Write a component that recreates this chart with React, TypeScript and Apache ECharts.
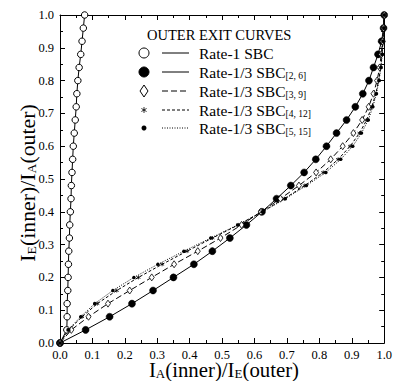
import React, { useEffect, useRef } from "react";
import * as echarts from "echarts";

// I_A(outer): input of the outer decoder (plotted on y)
const yIn = [0, 0.04, 0.08, 0.12, 0.16, 0.2, 0.24, 0.28, 0.32, 0.36, 0.4, 0.44, 0.48, 0.52, 0.56, 0.6, 0.64, 0.68, 0.72, 0.76, 0.8, 0.84, 0.88, 0.92, 0.96, 1.0];

// I_E(outer): output of each outer code (plotted on x)
const rate1 = [0, 0.021, 0.022, 0.022, 0.024, 0.025, 0.026, 0.027, 0.029, 0.03, 0.032, 0.034, 0.035, 0.037, 0.039, 0.041, 0.044, 0.047, 0.05, 0.052, 0.055, 0.059, 0.064, 0.068, 0.072, 0.076];
const sbc26 = [0, 0.079, 0.153, 0.222, 0.287, 0.35, 0.413, 0.47, 0.524, 0.575, 0.623, 0.668, 0.712, 0.753, 0.789, 0.822, 0.853, 0.884, 0.911, 0.934, 0.953, 0.967, 0.981, 0.992, 0.998, 1.0];
const sbc39 = [0, 0.035, 0.088, 0.148, 0.215, 0.283, 0.352, 0.425, 0.495, 0.56, 0.62, 0.68, 0.737, 0.79, 0.835, 0.872, 0.905, 0.932, 0.952, 0.967, 0.978, 0.986, 0.991, 0.995, 0.998, 1.0];
const sbc412 = [0, 0.027, 0.068, 0.115, 0.175, 0.242, 0.315, 0.392, 0.47, 0.55, 0.623, 0.692, 0.755, 0.812, 0.858, 0.895, 0.924, 0.946, 0.962, 0.974, 0.983, 0.989, 0.993, 0.996, 0.999, 1.0];
const sbc515 = [0, 0.025, 0.064, 0.107, 0.163, 0.228, 0.302, 0.382, 0.465, 0.548, 0.625, 0.695, 0.76, 0.82, 0.866, 0.903, 0.93, 0.951, 0.965, 0.976, 0.984, 0.99, 0.994, 0.997, 0.999, 1.0];

const legendTitle = "OUTER EXIT CURVES";
const legendNames = ["Rate-1 SBC", "Rate-1/3 SBC", "Rate-1/3 SBC", "Rate-1/3 SBC", "Rate-1/3 SBC"];
const legendSubs = ["", "[2, 6]", "[3, 9]", "[4, 12]", "[5, 15]"];

const FONT = "'Liberation Serif', 'Times New Roman', serif";

const pairs = (xs: number[]) => xs.map((x, i) => [x, yIn[i]]);

export default function App() {
  const ref = useRef<HTMLDivElement>(null);
  useEffect(() => {
    if (!ref.current) return;
    const chart = echarts.init(ref.current, undefined, { renderer: "svg" });

    const axisCommon = {
      type: "value" as const,
      min: 0,
      max: 1,
      interval: 0.1,
      splitLine: { show: false },
      axisLine: { show: true, onZero: false, lineStyle: { color: "#000", width: 1 } },
      axisTick: { show: true, inside: true, length: 5, lineStyle: { color: "#000", width: 1 } },
      minorTick: { show: true, splitNumber: 2, length: 3, lineStyle: { color: "#000", width: 1 } },
      minorSplitLine: { show: false },
    };
    const labelCommon = {
      show: true,
      color: "#000",
      fontFamily: FONT,
      fontSize: 12.5,
      formatter: (v: number) => v.toFixed(1),
    };

    const rowY = [53, 72, 91, 110, 128];
    const markerX = 144;
    const lineX1 = 162;
    const lineX2 = 189;
    const textX = 199;
    const dashes: (number[] | null)[] = [null, null, [6, 3], [3, 2], [1, 1.5]];

    const graphics: any[] = [
      {
        type: "text",
        x: 147,
        y: 35,
        style: { text: legendTitle, font: `14.5px ${FONT}`, fill: "#000", verticalAlign: "middle" },
      },
    ];
    legendNames.forEach((name, i) => {
      const y = rowY[i];
      graphics.push({
        type: "line",
        shape: { x1: lineX1, y1: y, x2: lineX2, y2: y },
        style: { stroke: "#000", lineWidth: 1, lineDash: dashes[i] || undefined },
      });
      graphics.push({
        type: "text",
        x: textX,
        y: y,
        style: {
          text: legendSubs[i] ? `{m|${name}}{s|${legendSubs[i]}}` : `{m|${name}}`,
          fill: "#000",
          verticalAlign: "middle",
          align: "left",
          rich: {
            m: { fontFamily: FONT, fontSize: 15.5, fill: "#000", lineHeight: 14 },
            s: { fontFamily: FONT, fontSize: 9.5, fill: "#000", lineHeight: 9, padding: [8, 0, 0, 0] },
          },
        },
      });
    });
    const sy = rowY[3];
    graphics.push(
      { type: "circle", shape: { cx: markerX, cy: rowY[0], r: 5 }, style: { fill: "#fff", stroke: "#000", lineWidth: 1 } },
      { type: "circle", shape: { cx: markerX, cy: rowY[1], r: 5 }, style: { fill: "#000", stroke: "#000", lineWidth: 1 } },
      {
        type: "polygon",
        shape: { points: [[markerX, rowY[2] - 6], [markerX + 4, rowY[2]], [markerX, rowY[2] + 6], [markerX - 4, rowY[2]]] },
        style: { fill: "#fff", stroke: "#000", lineWidth: 1 },
      },
      { type: "line", shape: { x1: markerX, y1: sy - 3, x2: markerX, y2: sy + 3 }, style: { stroke: "#000", lineWidth: 0.8 } },
      { type: "line", shape: { x1: markerX - 2.6, y1: sy - 1.5, x2: markerX + 2.6, y2: sy + 1.5 }, style: { stroke: "#000", lineWidth: 0.8 } },
      { type: "line", shape: { x1: markerX - 2.6, y1: sy + 1.5, x2: markerX + 2.6, y2: sy - 1.5 }, style: { stroke: "#000", lineWidth: 0.8 } },
      { type: "circle", shape: { cx: markerX, cy: rowY[4], r: 2.5 }, style: { fill: "#000" } },
      // axis titles
      {
        type: "text",
        x: 224,
        y: 370,
        scaleX: 1.04,
        style: {
          text: "{m|I}{s|A}{m|(inner)/I}{s|E}{m|(outer)}",
          align: "center",
          verticalAlign: "middle",
          rich: {
            m: { fontFamily: FONT, fontSize: 20, fill: "#000", lineHeight: 16 },
            s: { fontFamily: FONT, fontSize: 12.5, fill: "#000", lineHeight: 10, padding: [8, 0, 0, 0] },
          },
        },
      },
      {
        type: "text",
        x: 28,
        y: 183,
        rotation: Math.PI / 2,
        scaleX: 1.09,
        style: {
          text: "{m|I}{s|E}{m|(inner)/I}{s|A}{m|(outer)}",
          align: "center",
          verticalAlign: "middle",
          rich: {
            m: { fontFamily: FONT, fontSize: 20, fill: "#000", lineHeight: 16 },
            s: { fontFamily: FONT, fontSize: 12.5, fill: "#000", lineHeight: 10, padding: [8, 0, 0, 0] },
          },
        },
      }
    );

    const lineSeries = (
      data: number[],
      symbol: string,
      size: number | number[],
      color: string,
      dash: any,
      borderWidth: number
    ) => ({
      type: "line" as const,
      xAxisIndex: 0,
      yAxisIndex: 0,
      data: pairs(data),
      symbol,
      symbolSize: size,
      showSymbol: true,
      lineStyle: { color: "#000", width: 1, type: dash },
      itemStyle: { color, borderColor: "#000", borderWidth },
      emphasis: { disabled: true },
      z: 3,
    });

    chart.setOption({
      animation: false,
      backgroundColor: "#fff",
      grid: { left: 60, top: 15, width: 328, height: 328, containLabel: false },
      xAxis: [
        { ...axisCommon, position: "bottom", axisLabel: { ...labelCommon, margin: 5 } },
        { ...axisCommon, position: "top", axisLabel: { show: false } },
      ],
      yAxis: [
        { ...axisCommon, position: "left", axisLabel: { ...labelCommon, margin: 6 } },
        { ...axisCommon, position: "right", axisLabel: { show: false } },
      ],
      graphic: graphics,
      series: [
        lineSeries(rate1, "circle", 6.5, "#fff", "solid", 1),
        lineSeries(sbc26, "circle", 7, "#000", "solid", 0.5),
        lineSeries(sbc39, "diamond", [5, 7], "#fff", [6, 3], 0.8),
        lineSeries(sbc412, "path://M0,-10L0,10M-8.66,-5L8.66,5M-8.66,5L8.66,-5", 4, "#000", [3, 2], 0.8),
        lineSeries(sbc515, "circle", 3.5, "#000", [1, 1.5], 0),
      ],
    });
    return () => chart.dispose();
  }, []);
  return <div ref={ref} style={{ width: 395, height: 381, position: "absolute", left: 0, top: 0 }} />;
}
